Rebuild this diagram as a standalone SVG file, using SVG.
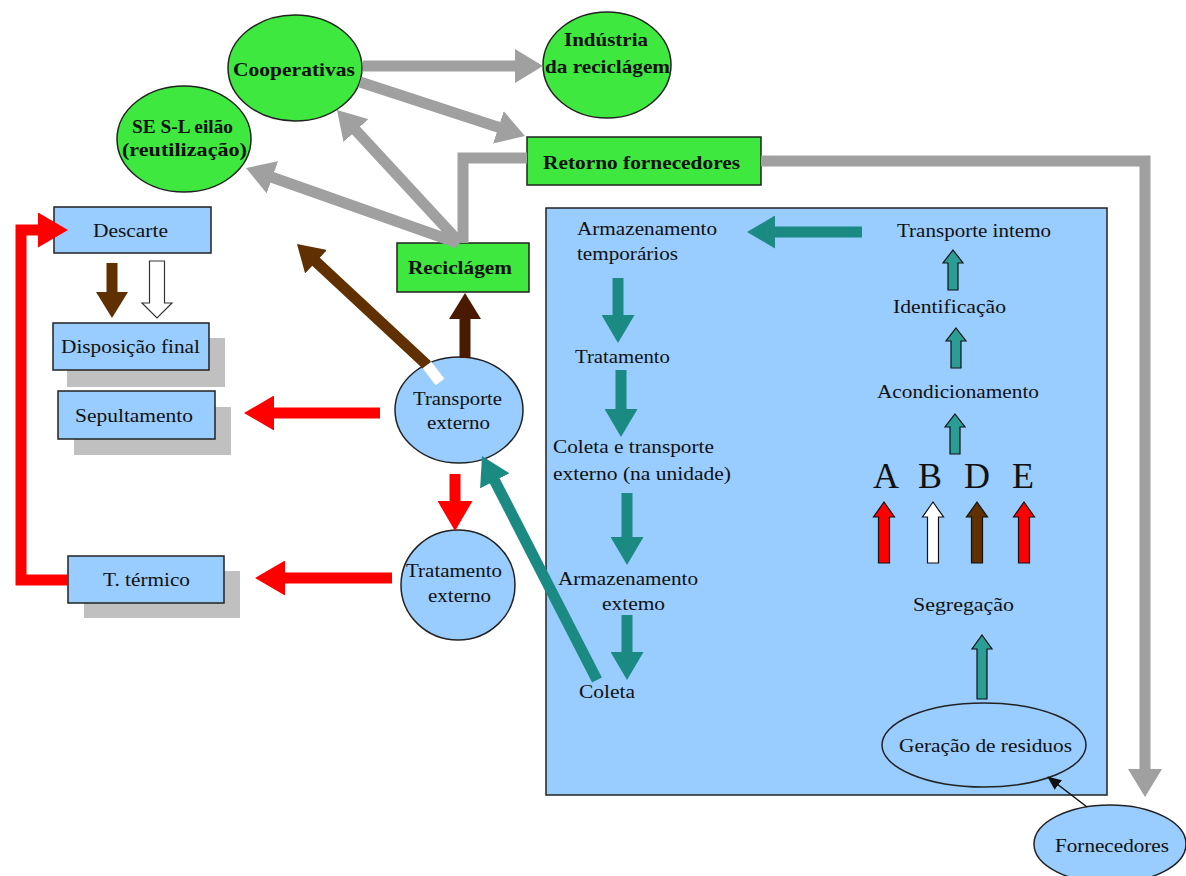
<svg xmlns="http://www.w3.org/2000/svg" xmlns:xlink="http://www.w3.org/1999/xlink" width="1186" height="876" viewBox="0 0 1186 876">
<style>
  text { font-family: "Liberation Serif", "Times New Roman", serif; font-size: 19px; fill: #111; }
  .b { font-weight: bold; }
  .big { font-size: 36px; }
  .green { fill: #3ee83e; stroke: #222; stroke-width: 1.5; }
  .blue { fill: #99ccff; stroke: #222; stroke-width: 1.5; }
  .shadow { fill: #c0c0c0; }
  .gray { stroke: #a0a0a0; stroke-width: 11; fill: none; }
  .teal { stroke: #1b8a82; stroke-width: 11; fill: none; }
  .red { stroke: #ff0000; stroke-width: 11; fill: none; }
  .brown { stroke: #603000; stroke-width: 11; fill: none; }
  .dbrown { stroke: #4a1a00; stroke-width: 11; fill: none; }
  .ol { stroke: #111; stroke-width: 1.2; }
</style>
<defs>
  <marker id="mg" markerUnits="userSpaceOnUse" viewBox="0 0 28 34" markerWidth="28" markerHeight="34" refX="14" refY="17" orient="auto"><path d="M0,0 L28,17 L0,34 Z" fill="#a0a0a0"/></marker>
  <marker id="mt" markerUnits="userSpaceOnUse" viewBox="0 0 28 33" markerWidth="28" markerHeight="33" refX="14" refY="16.5" orient="auto"><path d="M0,0 L28,16.5 L0,33 Z" fill="#1b8a82"/></marker>
  <marker id="mr" markerUnits="userSpaceOnUse" viewBox="0 0 30 35" markerWidth="30" markerHeight="35" refX="15" refY="17.5" orient="auto"><path d="M0,0 L30,17.5 L0,35 Z" fill="#ff0000"/></marker>
  <marker id="mb" markerUnits="userSpaceOnUse" viewBox="0 0 26 32" markerWidth="26" markerHeight="32" refX="13" refY="16" orient="auto"><path d="M0,0 L26,16 L0,32 Z" fill="#603000"/></marker>
  <marker id="mdb" markerUnits="userSpaceOnUse" viewBox="0 0 26 32" markerWidth="26" markerHeight="32" refX="13" refY="16" orient="auto"><path d="M0,0 L26,16 L0,32 Z" fill="#4a1a00"/></marker>
  <marker id="mk" markerUnits="userSpaceOnUse" viewBox="0 0 14 12" markerWidth="14" markerHeight="12" refX="13" refY="6" orient="auto"><path d="M0,0 L14,6 L0,12 Z" fill="#111"/></marker>
  <path id="ua" d="M0,0 L10.5,15 L5.5,15 L5.5,61 L-5.5,61 L-5.5,15 L-10.5,15 Z"/>
  <path id="ut" d="M0,0 L10,13 L5,13 L5,40 L-5,40 L-5,13 L-10,13 Z"/>
</defs>
<rect width="1186" height="876" fill="#ffffff"/>

<g id="unidade">
  <rect x="546" y="208" width="561" height="587" class="blue"/>
</g>

<g id="cooperativas">
  <ellipse cx="295" cy="68" rx="67" ry="53" class="green"/>
  <text class="b" x="233" y="76" textLength="122" lengthAdjust="spacingAndGlyphs">Cooperativas</text>
</g>
<g id="industria">
  <ellipse cx="607" cy="65" rx="64" ry="53" class="green"/>
  <text class="b" x="564" y="46" textLength="84" lengthAdjust="spacingAndGlyphs">Indústria</text>
  <text class="b" x="545" y="73" textLength="125" lengthAdjust="spacingAndGlyphs">da reciclágem</text>
</g>
<g id="ses-leilao">
  <ellipse cx="184" cy="139" rx="67" ry="53" class="green"/>
  <text class="b" x="132" y="133" textLength="101" lengthAdjust="spacingAndGlyphs">SE S-L eilão</text>
  <text class="b" x="122" y="156" textLength="125" lengthAdjust="spacingAndGlyphs">(reutilização)</text>
</g>
<g id="retorno">
  <rect x="527" y="137" width="234" height="48" class="green"/>
  <text class="b" x="543" y="169" textLength="197" lengthAdjust="spacingAndGlyphs">Retorno fornecedores</text>
</g>
<g id="reciclagem">
  <rect x="397" y="243" width="132" height="49" class="green"/>
  <text class="b" x="408" y="274" textLength="104" lengthAdjust="spacingAndGlyphs">Reciclágem</text>
</g>

<g id="descarte">
  <rect x="54" y="207" width="157" height="46" class="blue"/>
  <text x="93" y="237" textLength="75" lengthAdjust="spacingAndGlyphs">Descarte</text>
</g>
<g id="disposicao">
  <rect x="67" y="338" width="158" height="49" class="shadow"/>
  <rect x="53" y="323" width="156" height="47" class="blue"/>
  <text x="61" y="353" textLength="139" lengthAdjust="spacingAndGlyphs">Disposição final</text>
</g>
<g id="sepultamento">
  <rect x="74" y="407" width="157" height="48" class="shadow"/>
  <rect x="58" y="391" width="157" height="48" class="blue"/>
  <text x="75" y="422" textLength="118" lengthAdjust="spacingAndGlyphs">Sepultamento</text>
</g>
<g id="termico">
  <rect x="84" y="571" width="156" height="47" class="shadow"/>
  <rect x="68" y="556" width="156" height="47" class="blue"/>
  <text x="103" y="586" textLength="87" lengthAdjust="spacingAndGlyphs">T. térmico</text>
</g>

<g id="transporte-externo">
  <ellipse cx="459" cy="410" rx="64" ry="53" class="blue"/>
  <text x="413" y="405" textLength="89" lengthAdjust="spacingAndGlyphs">Transporte</text>
  <text x="427" y="429" textLength="63" lengthAdjust="spacingAndGlyphs">externo</text>
</g>
<g id="tratamento-externo">
  <ellipse cx="458" cy="585" rx="57" ry="55" class="blue"/>
  <text x="406" y="577" textLength="96" lengthAdjust="spacingAndGlyphs">Tratamento</text>
  <text x="428" y="602" textLength="63" lengthAdjust="spacingAndGlyphs">externo</text>
</g>

<g id="armazenamento-temporario">
  <text x="577" y="235" textLength="140" lengthAdjust="spacingAndGlyphs">Armazenamento</text>
  <text x="577" y="260" textLength="101" lengthAdjust="spacingAndGlyphs">temporários</text>
</g>
<g id="tratamento">
  <text x="575" y="363" textLength="95" lengthAdjust="spacingAndGlyphs">Tratamento</text>
</g>
<g id="coleta-transporte">
  <text x="553" y="453" textLength="161" lengthAdjust="spacingAndGlyphs">Coleta e transporte</text>
  <text x="553" y="480" textLength="178" lengthAdjust="spacingAndGlyphs">externo (na unidade)</text>
</g>
<g id="armazenamento-externo">
  <text x="558" y="585" textLength="140" lengthAdjust="spacingAndGlyphs">Armazenamento</text>
  <text x="602" y="610" textLength="63" lengthAdjust="spacingAndGlyphs">extemo</text>
</g>
<g id="coleta">
  <text x="579" y="698" textLength="56" lengthAdjust="spacingAndGlyphs">Coleta</text>
</g>
<g id="transporte-interno">
  <text x="897" y="237" textLength="154" lengthAdjust="spacingAndGlyphs">Transporte intemo</text>
</g>
<g id="identificacao">
  <text x="893" y="313" textLength="113" lengthAdjust="spacingAndGlyphs">Identificação</text>
</g>
<g id="acondicionamento">
  <text x="877" y="398" textLength="162" lengthAdjust="spacingAndGlyphs">Acondicionamento</text>
</g>
<g id="grupos">
  <text class="big" x="873" y="488">A</text>
  <text class="big" x="918" y="488">B</text>
  <text class="big" x="964" y="488">D</text>
  <text class="big" x="1012" y="488">E</text>
</g>
<g id="segregacao">
  <text x="913" y="611" textLength="101" lengthAdjust="spacingAndGlyphs">Segregação</text>
</g>
<g id="geracao">
  <ellipse cx="984" cy="745" rx="102" ry="42" class="blue"/>
  <text x="899" y="752" textLength="173" lengthAdjust="spacingAndGlyphs">Geração de residuos</text>
</g>
<g id="fornecedores">
  <ellipse cx="1110" cy="844" rx="76" ry="39" class="blue"/>
  <text x="1055" y="852" textLength="114" lengthAdjust="spacingAndGlyphs">Fornecedores</text>
</g>

<g id="connectors">
  <!-- gray -->
  <line x1="363" y1="66" x2="529" y2="66" class="gray" marker-end="url(#mg)"/>
  <line x1="360" y1="82" x2="511.7" y2="131.6" class="gray" marker-end="url(#mg)"/>
  <line x1="460" y1="243" x2="346.5" y2="120.3" class="gray" marker-end="url(#mg)"/>
  <line x1="458" y1="243" x2="259.2" y2="172.7" class="gray" marker-end="url(#mg)"/>
  <polyline points="463,243 463,158 527,158" class="gray"/>
  <polyline points="761,161 1145,161 1145,783" class="gray" marker-end="url(#mg)"/>
  <!-- teal -->
  <line x1="862" y1="232" x2="761" y2="232" class="teal" stroke-width="12" marker-end="url(#mt)"/>
  <line x1="618" y1="278" x2="618" y2="329" class="teal" marker-end="url(#mt)"/>
  <line x1="621" y1="370" x2="621" y2="423" class="teal" marker-end="url(#mt)"/>
  <line x1="627" y1="493" x2="627" y2="551" class="teal" marker-end="url(#mt)"/>
  <line x1="627" y1="615" x2="627" y2="666" class="teal" marker-end="url(#mt)"/>
  <line x1="597" y1="680" x2="488.4" y2="468.4" class="teal" stroke-width="10" marker-end="url(#mt)"/>
  <!-- red -->
  <line x1="380" y1="413" x2="259" y2="413" class="red" marker-end="url(#mr)"/>
  <line x1="392" y1="578" x2="270" y2="578" class="red" stroke-width="12" marker-end="url(#mr)"/>
  <line x1="455" y1="474" x2="455" y2="516" class="red" marker-end="url(#mr)"/>
  <polyline points="68,580 21,580 21,230 53,230" class="red" marker-end="url(#mr)"/>
  <!-- brown -->
  <line x1="427" y1="365" x2="306.5" y2="252.9" class="brown" marker-end="url(#mb)"/>
  <line x1="427" y1="365" x2="440" y2="382" stroke="#ffffff" stroke-width="11"/>
  <line x1="465" y1="358" x2="465" y2="306" class="dbrown" marker-end="url(#mdb)"/>
  <polygon points="106.5,263 117.5,263 117.5,292 128,292 112,318 96,292 106.5,292" fill="#603000"/>
  <polygon points="149.5,261 164.5,261 164.5,303 172,303 157,318 142,303 149.5,303" fill="#ffffff" stroke="#333" stroke-width="1.2"/>
  <!-- small outlined arrows -->
  <use xlink:href="#ut" x="953" y="250" fill="#2a9d95" class="ol"/>
  <use xlink:href="#ut" x="956" y="328" fill="#2a9d95" class="ol"/>
  <use xlink:href="#ut" x="955" y="414" fill="#2a9d95" class="ol"/>
  <use xlink:href="#ua" x="884" y="502" fill="#ff0000" class="ol"/>
  <use xlink:href="#ua" x="933" y="502" fill="#ffffff" class="ol"/>
  <use xlink:href="#ua" x="977" y="502" fill="#603000" class="ol"/>
  <use xlink:href="#ua" x="1024" y="502" fill="#ff0000" class="ol"/>
  <polygon points="982,635 992,649 987,649 987,699 977,699 977,649 972,649" fill="#2a9d95" class="ol"/>
  <!-- black thin -->
  <line x1="1087" y1="807" x2="1048" y2="777" stroke="#111" stroke-width="1.5" marker-end="url(#mk)"/>
</g>
</svg>
